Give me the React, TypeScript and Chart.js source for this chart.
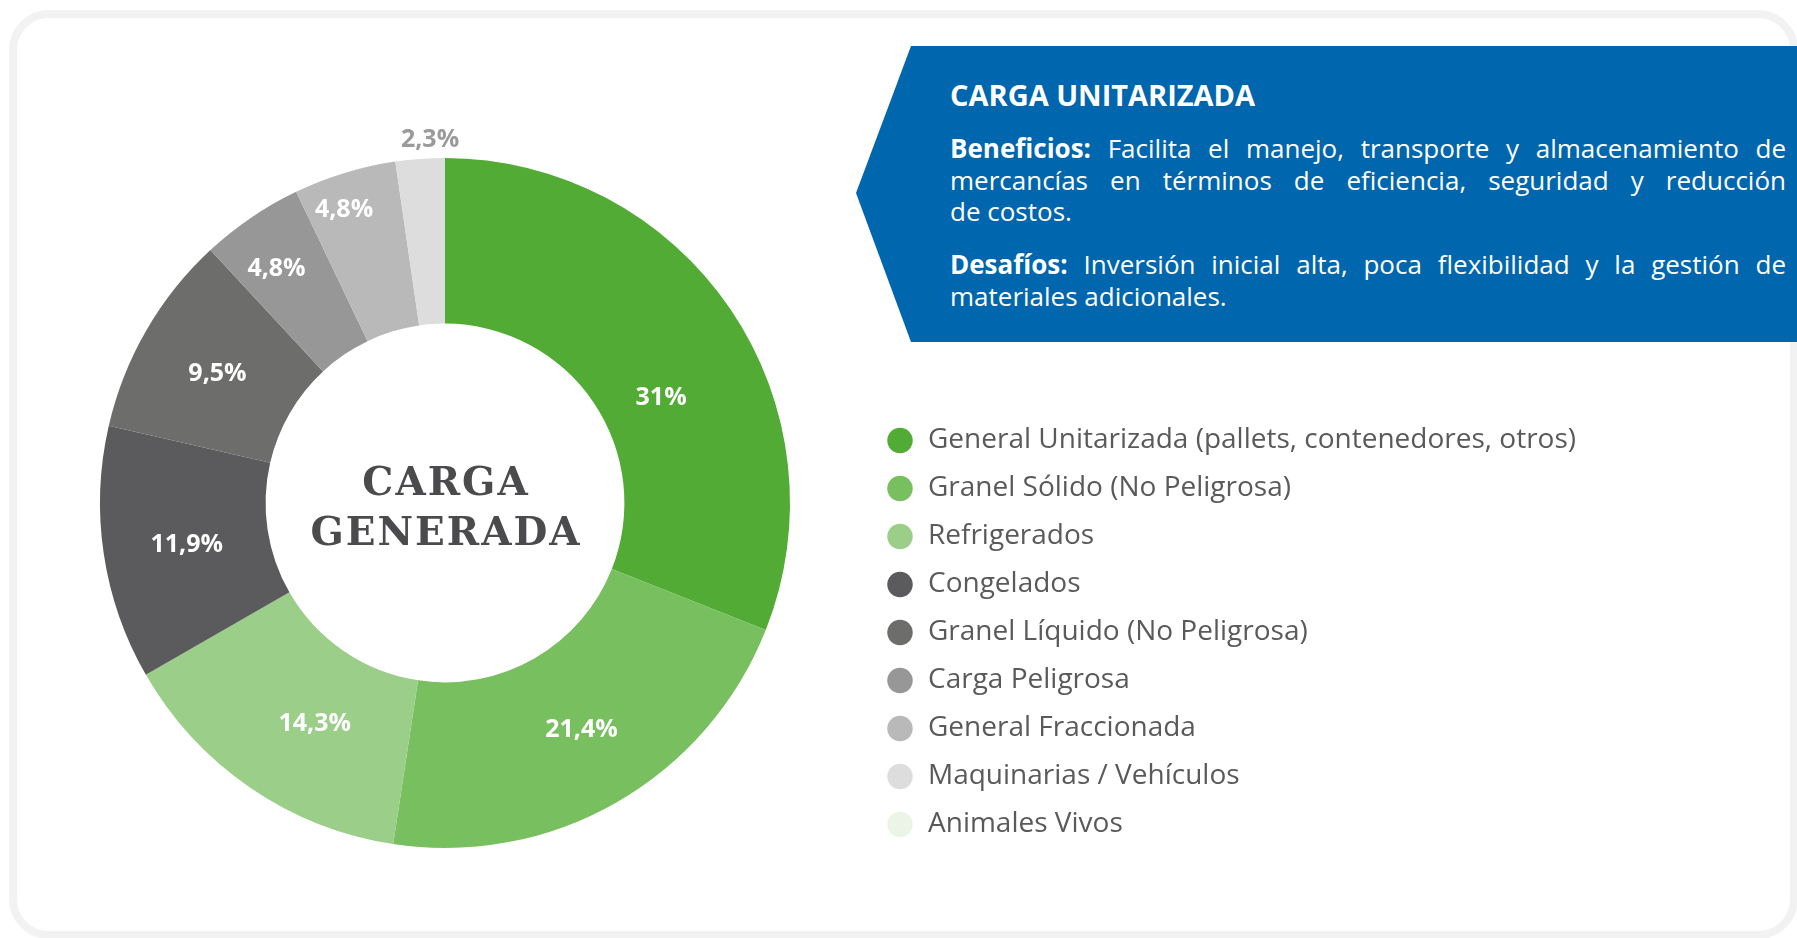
import React, { useEffect, useRef } from "react";
import { Chart, registerables } from "chart.js";

Chart.register(...registerables);

// ---------- data ----------
const categories = [
  "General Unitarizada (pallets, contenedores, otros)",
  "Granel Sólido (No Peligrosa)",
  "Refrigerados",
  "Congelados",
  "Granel Líquido (No Peligrosa)",
  "Carga Peligrosa",
  "General Fraccionada",
  "Maquinarias / Vehículos",
  "Animales Vivos",
];
const shares = [31, 21.4, 14.3, 11.9, 9.5, 4.8, 4.8, 2.3, 0];
const shareLabels = ["31%", "21,4%", "14,3%", "11,9%", "9,5%", "4,8%", "4,8%", "2,3%", ""];
const sliceColors = [
  "#52ab34",
  "#78bf5f",
  "#9bce88",
  "#5b5b5d",
  "#6d6d6b",
  "#979797",
  "#b9b9b9",
  "#dddddd",
  "#ebf5e7",
];
const centerTitle = ["CARGA", "GENERADA"];
const boxTitle = "CARGA UNITARIZADA";
const benefitsHead = "Beneficios:";
const benefitsLines = [
  " Facilita el manejo, transporte y almacenamiento de",
  "mercancías en términos de eficiencia, seguridad y reducción",
  "de costos.",
];
const challengesHead = "Desafíos:";
const challengesLines = [
  " Inversión inicial alta, poca flexibilidad y la gestión de",
  "materiales adicionales.",
];

// ---------- styling constants ----------
const W = 1797;
const H = 938;
const LEGEND_FONT = 28;
const LEGEND_PAD = 20;
const LEGEND_BOX = 34;
const LEGEND_LEFT = 860;
const PAD_LEFT = 24;
const PAD_TOP = 147.5;
const PAD_BOTTOM = 79.5;
const TEXT_FONT = "'Open Sans', sans-serif";

// label tuning (radius as fraction of outer radius, angle nudge in degrees)
const labelTune = [
  { r: 0.7, a: 7.7 },
  { r: 0.76, a: -1.5 },
  { r: 0.736, a: -3.5 },
  { r: 0.757, a: 0 },
  { r: 0.762, a: 0 },
  { r: 0.843, a: -1.2 },
  { r: 0.907, a: -1.9 },
  { r: 1.061, a: 1.8, color: "#9a9a9a" },
  { r: 0.76, a: 0 },
];

const sliceLabelPlugin = {
  id: "sliceLabels",
  afterDatasetsDraw(chart: any, _args: any, opts: any) {
    const ctx = chart.ctx;
    const meta = chart.getDatasetMeta(0);
    let cx = 0;
    let cy = 0;
    meta.data.forEach((arc: any, i: number) => {
      const p = arc.getProps(["x", "y", "startAngle", "endAngle", "outerRadius"], true);
      cx = p.x;
      cy = p.y;
      const text = opts.texts[i];
      if (!text) return;
      const t = opts.tune[i] || { r: 0.76, a: 0 };
      const ang = (p.startAngle + p.endAngle) / 2 + (t.a * Math.PI) / 180;
      const r = p.outerRadius * t.r;
      ctx.save();
      ctx.font = opts.font;
      ctx.fillStyle = t.color || opts.color;
      ctx.textAlign = "center";
      ctx.textBaseline = "middle";
      ctx.fillText(text, p.x + Math.cos(ang) * r, p.y + Math.sin(ang) * r + opts.dy);
      ctx.restore();
    });
    // center title
    ctx.save();
    ctx.font = opts.centerFont;
    ctx.fillStyle = opts.centerColor;
    ctx.textAlign = "center";
    ctx.textBaseline = "middle";
    try {
      (ctx as any).letterSpacing = opts.centerSpacing + "px";
    } catch (e) {}
    const shift = opts.centerSpacing / 2;
    ctx.fillText(opts.center[0], cx + shift, cy - 18);
    ctx.fillText(opts.center[1], cx + shift, cy + 32);
    ctx.restore();
  },
};

function ChartCanvas() {
  const ref = useRef<HTMLCanvasElement | null>(null);
  useEffect(() => {
    const canvas = ref.current!;
    const mctx = document.createElement("canvas").getContext("2d")!;
    mctx.font = `${LEGEND_FONT}px ${TEXT_FONT}`;
    const maxText = Math.max(...categories.map((c) => mctx.measureText(c).width));
    const legendWidth = LEGEND_PAD + LEGEND_BOX + LEGEND_FONT / 2 + maxText + 10;
    const padRight = W - LEGEND_LEFT - legendWidth;

    const chart = new Chart(canvas, {
      type: "doughnut",
      data: {
        labels: categories,
        datasets: [
          {
            data: shares,
            backgroundColor: sliceColors,
            borderWidth: 0,
            hoverOffset: 0,
          },
        ],
      },
      options: {
        animation: false,
        responsive: false,
        devicePixelRatio: 1,
        radius: 345,
        cutout: "52%",
        layout: {
          padding: { left: PAD_LEFT, right: padRight, top: PAD_TOP, bottom: PAD_BOTTOM },
        },
        plugins: {
          tooltip: { enabled: false },
          legend: {
            position: "right",
            align: "end",
            labels: {
              usePointStyle: true,
              pointStyle: "circle",
              boxWidth: LEGEND_BOX,
              boxHeight: 18,
              padding: LEGEND_PAD,
              color: "#5a5a5a",
              font: { family: TEXT_FONT, size: LEGEND_FONT, weight: "normal" },
            },
          },
          sliceLabels: {
            texts: shareLabels,
            tune: labelTune,
            font: "bold 25px 'Open Sans', sans-serif",
            color: "#ffffff",
            dy: 3,
            center: centerTitle,
            centerFont: "bold 39px 'DejaVu Serif', serif",
            centerColor: "#4b4b4d",
            centerSpacing: 2,
          },
        } as any,
      },
      plugins: [sliceLabelPlugin],
    });
    return () => chart.destroy();
  }, []);
  return (
    <canvas
      ref={ref}
      width={W}
      height={H}
      style={{ position: "absolute", left: 0, top: 0, width: W, height: H }}
    />
  );
}

function InfoBox() {
  const lineStyle: React.CSSProperties = {
    display: "block",
    height: 31.5,
    lineHeight: "31.5px",
    whiteSpace: "nowrap",
  };
  const full: React.CSSProperties = {
    ...lineStyle,
    textAlign: "justify",
    textAlignLast: "justify" as any,
    whiteSpace: "normal",
  };
  return (
    <div
      style={{
        position: "absolute",
        left: 856,
        top: 46,
        width: W - 856,
        height: 296,
        background: "#0066ad",
        clipPath: "polygon(55px 0, 100% 0, 100% 100%, 55px 100%, 0 147px)",
        color: "#ffffff",
        fontFamily: TEXT_FONT,
      }}
    >
      <div
        style={{
          position: "absolute",
          left: 94,
          top: 33,
          fontSize: 29,
          fontWeight: 700,
          lineHeight: "32px",
          whiteSpace: "nowrap",
        }}
      >
        {boxTitle}
      </div>
      <div style={{ position: "absolute", left: 94, right: 11, top: 87, fontSize: 26 }}>
        <div style={full}>
          <b>{benefitsHead}</b>
          {benefitsLines[0]}
        </div>
        <div style={full}>{benefitsLines[1]}</div>
        <div style={lineStyle}>{benefitsLines[2]}</div>
      </div>
      <div style={{ position: "absolute", left: 94, right: 11, top: 203, fontSize: 26 }}>
        <div style={full}>
          <b>{challengesHead}</b>
          {challengesLines[0]}
        </div>
        <div style={lineStyle}>{challengesLines[1]}</div>
      </div>
    </div>
  );
}

export default function App() {
  return (
    <div
      style={{
        position: "fixed",
        left: 0,
        top: 0,
        width: W,
        height: H,
        overflow: "hidden",
        background: "#ffffff",
      }}
    >
      <div
        style={{
          position: "absolute",
          left: 9,
          top: 10,
          width: 1789,
          height: 929,
          boxSizing: "border-box",
          border: "8px solid #f2f2f2",
          borderRadius: 40,
          background: "#ffffff",
        }}
      />
      <ChartCanvas />
      <InfoBox />
    </div>
  );
}
